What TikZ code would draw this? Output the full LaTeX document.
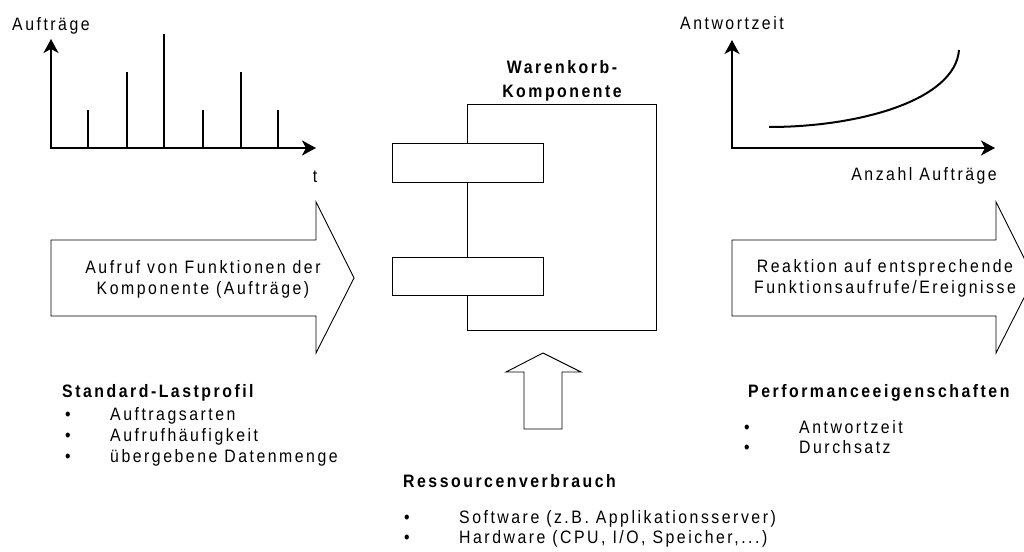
\documentclass[tikz,border=0pt]{standalone}
\usepackage{fontspec}
\setmainfont{Liberation Sans}[FakeStretch=0.88,LetterSpace=14]
\usetikzlibrary{arrows.meta,positioning}

\begin{document}
\begin{tikzpicture}
  [x=1pt,y=-1pt,every node/.style={inner sep=0pt,font=\fontsize{18}{21}\selectfont},
   axis/.style={line width=2pt,{Stealth[length=14pt,width=15pt,inset=4pt]}-{Stealth[length=14pt,width=15pt,inset=4pt]}},
   outline/.style={draw,line width=0.9pt,fill=white}]
  \tikzstyle{head} = [font=\fontsize{18}{21}\selectfont\bfseries]
  \tikzstyle{dot} = [anchor=base]
  \useasboundingbox (0,0) rectangle (1024,551);
  \clip (0,0) rectangle (1024,551);

  % load profile over time
  \draw[axis] (51,39) -- (51,148) -- (316,148);
  \foreach \x/\top in {88/110,127/72,164/34,203/110,241/72,278/110}
    \draw[line width=2pt] (\x,148) -- (\x,\top);
  \node[anchor=base west] (ylab) at (12,31) {Aufträge};
  \node[anchor=base] (tlab) at (315,182) {t};

  % response time over number of jobs
  \draw[axis] (732,40) -- (732,148) -- (995,148);
  \draw[line width=2pt] (769,127) .. controls (860,127) and (955,100) .. (959,50);
  \node[anchor=base west] (rlab) at (680,30) {Antwortzeit};
  \node[anchor=base east] (nlab) at (997,180) {Anzahl Aufträge};

  % component with two interfaces
  \node[outline,minimum width=189pt,minimum height=226pt] (cart) at (561.5,217) {};
  \node[outline,minimum width=151pt,minimum height=39pt] (port1) at (467.5,162.5) {};
  \node[outline,minimum width=151pt,minimum height=38pt] (port2) at (467.5,276) {};
  \node[head,anchor=base] (title1) at (562,73) {Warenkorb-};
  \node[head,anchor=base] (title2) at (562,97) {Komponente};

  % big arrows left and right
  \draw[outline] (51,240) -- (316,240) -- (316,202) -- (354,278) -- (316,353)
    -- (316,316) -- (51,316) -- cycle;
  \node[align=center] (calls) at (203,279) {Aufruf von Funktionen der\\Komponente (Aufträge)};
  \draw[outline] (732,240) -- (996,240) -- (996,202) -- (1034,278) -- (996,353)
    -- (996,316) -- (732,316) -- cycle;
  \node[align=center] (react) at (885,278) {Reaktion auf entsprechende\\Funktionsaufrufe/Ereignisse};

  % resources arrow
  \draw[outline] (524,429) -- (524,372) -- (506,372) -- (543,353) -- (581,372)
    -- (562,372) -- (562,429) -- cycle;

  % lists
  \node[head,anchor=base west] (load) at (62,397) {Standard-Lastprofil};
  \node[anchor=base west] (load1) at (110,420) {Auftragsarten};
  \node[anchor=base west] (load2) at (110,441) {Aufrufhäufigkeit};
  \node[anchor=base west] (load3) at (110,462) {übergebene Datenmenge};

  \node[head,anchor=base west] (res) at (403,487) {Ressourcenverbrauch};
  \node[anchor=base west] (res1) at (459,523) {Software (z.B. Applikationsserver)};
  \node[anchor=base west] (res2) at (459,543) {Hardware (CPU, I/O, Speicher,...)};

  \node[head,anchor=base west] (perf) at (748,397) {Performanceeigenschaften};
  \node[anchor=base west] (perf1) at (799,433) {Antwortzeit};
  \node[anchor=base west] (perf2) at (799,453) {Durchsatz};

  \foreach \x/\y in {68/420,68/441,68/462,407/523,407/543,747/433,747/453}
    \node[dot] (dot-\x-\y) at (\x,\y) {\textbullet};
\end{tikzpicture}
\end{document}
